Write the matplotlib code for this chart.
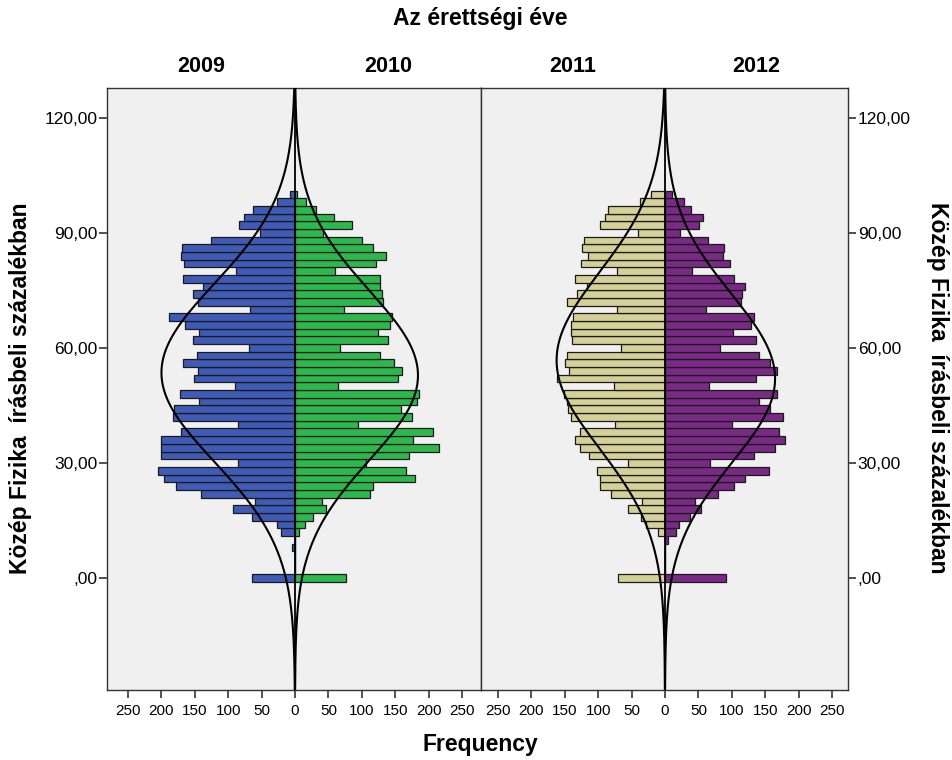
import numpy as np
import matplotlib
matplotlib.use("Agg")
import matplotlib.pyplot as plt

plt.rcParams['font.family'] = ['Liberation Sans', 'DejaVu Sans']

# ---------------- data ----------------
bin_width = 2
bin_centers = np.arange(0, 101, 2)  # 0, 2, ..., 100

# frequencies listed from score 100 down to 0
freq_2009_desc = [8, 27, 63, 76, 84, 52, 126, 169, 171, 166, 88, 167, 137, 153, 145, 67,
                  189, 164, 143, 153, 69, 147, 168, 145, 151, 90, 172, 143, 181, 183, 86,
                  171, 201, 200, 200, 86, 205, 196, 178, 141, 60, 93, 65, 27, 21, 0, 4,
                  0, 0, 0, 64]
freq_2010_desc = [3, 16, 32, 59, 86, 42, 101, 116, 136, 121, 60, 127, 127, 130, 132, 73,
                  145, 142, 124, 139, 67, 127, 148, 160, 154, 65, 185, 182, 159, 175, 95,
                  206, 177, 215, 170, 106, 166, 179, 116, 112, 40, 46, 27, 15, 6, 0, 0,
                  0, 0, 0, 77]
freq_2011_desc = [21, 37, 85, 90, 98, 41, 121, 124, 115, 126, 72, 134, 117, 131, 146, 72,
                  137, 140, 141, 139, 66, 146, 149, 144, 162, 77, 151, 146, 145, 140, 75,
                  127, 134, 127, 113, 56, 101, 97, 97, 81, 35, 56, 36, 28, 11, 0, 0,
                  0, 0, 0, 71]
freq_2012_desc = [11, 28, 39, 57, 51, 22, 65, 88, 87, 97, 41, 103, 120, 115, 114, 62,
                  134, 129, 102, 136, 82, 141, 157, 167, 136, 66, 168, 141, 157, 176, 101,
                  171, 180, 165, 134, 68, 156, 120, 104, 79, 45, 54, 37, 21, 17, 5, 0,
                  0, 0, 0, 91]

years = ["2009", "2010", "2011", "2012"]
freqs = {
    "2009": np.array(freq_2009_desc[::-1], dtype=float),
    "2010": np.array(freq_2010_desc[::-1], dtype=float),
    "2011": np.array(freq_2011_desc[::-1], dtype=float),
    "2012": np.array(freq_2012_desc[::-1], dtype=float),
}
colors = {"2009": "#3F5BB5", "2010": "#2DB84D", "2011": "#D5CF98", "2012": "#782A84"}

y_ticks = [0, 30, 60, 90, 120]
x_ticks = [-250, -200, -150, -100, -50, 0, 50, 100, 150, 200, 250]

title = "Az érettségi éve"
y_label = "Közép Fizika  írásbeli százalékban"
x_label = "Frequency"

# ---------------- figure ----------------
W, H = 952, 760
fig = plt.figure(figsize=(W / 100, H / 100), dpi=100)
fig.patch.set_facecolor("white")

def fx(px):
    return px / W

def fy(py):
    return 1 - py / H

top_px, bot_px = 88, 690
ax1 = fig.add_axes([fx(107), fy(bot_px), fx(481 - 107), (bot_px - top_px) / H])
ax2 = fig.add_axes([fx(481), fy(bot_px), fx(848 - 481), (bot_px - top_px) / H])

ylim = (-29.2, 127.8)
y_curve = np.linspace(ylim[0], ylim[1], 600)

def fmt_y(v):
    s = f"{v:.2f}".replace(".", ",")
    if s.startswith("0,"):
        s = s[1:]
    return s

panels = [(ax1, "2009", "2010", (-281.4, 278.4)), (ax2, "2011", "2012", (-275.4, 274.0))]
for ax, yl, yr, xl in panels:
    ax.set_facecolor("#F0F0F0")
    for yr_name, sign in ((yl, -1), (yr, 1)):
        f = freqs[yr_name]
        ax.barh(bin_centers, sign * f, height=bin_width, color=colors[yr_name],
                edgecolor="#1a1a1a", linewidth=0.9, zorder=2)
        n = f.sum()
        mu = (f * bin_centers).sum() / n
        sd = np.sqrt((f * (bin_centers - mu) ** 2).sum() / (n - 1))
        pdf = np.exp(-0.5 * ((y_curve - mu) / sd) ** 2) / (sd * np.sqrt(2 * np.pi))
        ax.plot(sign * n * bin_width * pdf, y_curve, color="black", lw=1.5, zorder=3)
    ax.axvline(0, color="black", lw=1.3, zorder=4)
    ax.set_xlim(*xl)
    ax.set_ylim(*ylim)
    ax.set_xticks(x_ticks)
    ax.set_xticklabels([str(abs(t)) for t in x_ticks], fontsize=11)
    ax.set_yticks(y_ticks)
    ax.set_yticklabels([fmt_y(v) for v in y_ticks], fontsize=12.5)
    ax.tick_params(axis="both", direction="out", length=6, width=1.2, color="#333333")
    ax.tick_params(axis="x", pad=4)
    ax.tick_params(axis="y", pad=1)
    for sp in ax.spines.values():
        sp.set_color("#333333")
        sp.set_linewidth(1.0)

ax1.tick_params(axis="y", left=True, right=False, labelleft=True, labelright=False)
ax2.tick_params(axis="y", left=False, right=True, labelleft=False, labelright=True)

# year labels above each half
for ax, yl, yr, xl in panels:
    ax.text(xl[0] / 2, 1.018, yl, transform=ax.get_xaxis_transform(),
            ha="center", va="bottom", fontsize=15.5, fontweight="bold")
    ax.text(xl[1] / 2, 1.018, yr, transform=ax.get_xaxis_transform(),
            ha="center", va="bottom", fontsize=15.5, fontweight="bold")

fig.text(fx(480), fy(19), title, ha="center", va="center", fontsize=16.5, fontweight="bold")
fig.text(fx(480), fy(745), x_label, ha="center", va="center", fontsize=16.5, fontweight="bold")
fig.text(fx(21), fy(388), y_label, ha="center", va="center", rotation=90,
         fontsize=16.5, fontweight="bold")
fig.text(fx(938), fy(388), y_label, ha="center", va="center", rotation=270,
         fontsize=16.5, fontweight="bold")

fig.savefig("out.png", dpi=100, facecolor="white")
